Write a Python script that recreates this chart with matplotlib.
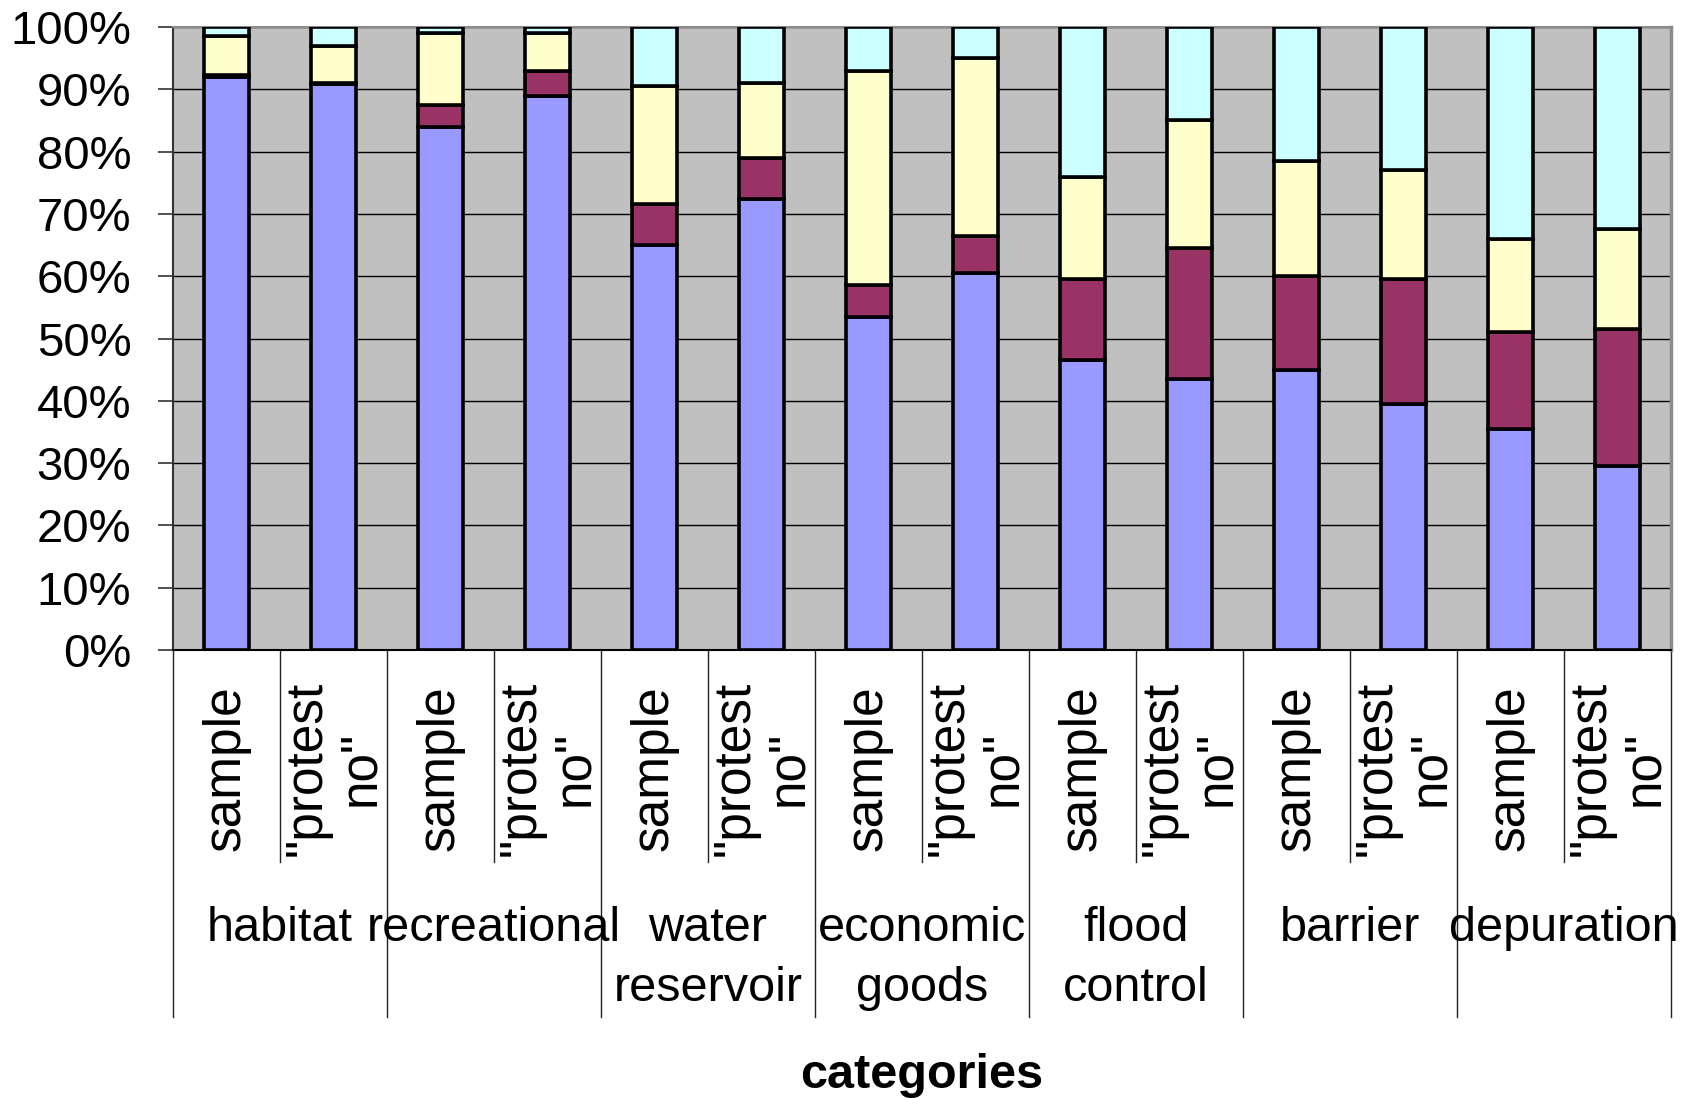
import matplotlib
matplotlib.use("Agg")
import matplotlib.pyplot as plt
import numpy as np

# stacked shares (%) per bar, bottom to top
groups = ["habitat", "recreational", "water\nreservoir", "economic\ngoods",
          "flood\ncontrol", "barrier", "depuration"]
sub_labels = ["sample", "\"protest\nno\""]

blue   = [92.0, 90.8, 84.0, 89.0, 65.0, 72.4, 53.5, 60.5, 46.5, 43.5, 45.0, 39.5, 35.5, 29.5]
maroon = [0.3, 0.2, 3.5, 4.0, 6.6, 6.6, 5.1, 6.0, 13.1, 21.0, 15.0, 20.0, 15.5, 22.0]
yellow = [6.2, 6.0, 11.5, 6.0, 19.0, 12.0, 34.3, 28.5, 16.4, 20.6, 18.5, 17.5, 15.0, 16.0]
cyan   = [1.5, 3.0, 1.0, 1.0, 9.4, 9.0, 7.1, 5.0, 24.0, 14.9, 21.5, 23.0, 34.0, 32.5]

series = [blue, maroon, yellow, cyan]
colors = ["#9999FF", "#993366", "#FFFFCC", "#CCFFFF"]

plt.rcParams["font.family"] = ["Liberation Sans", "DejaVu Sans"]

W, H = 1693, 1098
fig = plt.figure(figsize=(W / 100, H / 100), dpi=100)
left, right, top, bottom = 173, 1671, 27, 650
ax = fig.add_axes([left / W, 1 - bottom / H, (right - left) / W, (bottom - top) / H])
ax.set_facecolor("#C0C0C0")

n = len(blue)
x = np.arange(n)
base = np.zeros(n)
for vals, c in zip(series, colors):
    ax.bar(x, vals, 0.42, bottom=base, color=c, edgecolor="black", linewidth=2.6, zorder=3)
    base += np.array(vals)

ax.set_xlim(-0.5, n - 0.5)
ax.set_ylim(0, 100)
ax.set_yticks(np.arange(0, 101, 10))
ax.set_yticklabels([f"{v}%" for v in range(0, 101, 10)], fontsize=34)
ax.tick_params(axis="y", length=11, width=1.2, pad=19, direction="out", color="#333333")
ax.set_xticks([])
ax.yaxis.grid(True, color="black", linewidth=1.0, zorder=0)
ax.set_axisbelow(True)

ax.spines["top"].set_color("#8C8C8C")
ax.spines["top"].set_linewidth(1.5)
ax.spines["right"].set_color("#8C8C8C")
ax.spines["right"].set_linewidth(2.5)
ax.spines["left"].set_color("#333333")
ax.spines["left"].set_linewidth(1.5)
ax.spines["bottom"].set_color("black")
ax.spines["bottom"].set_linewidth(1.5)

ph = bottom - top
def yfrac(py):
    return -(py - bottom) / ph

tr = ax.get_xaxis_transform()
# group boundaries (long) and sub-category separators (short)
for k in range(len(groups) + 1):
    xb = -0.5 + 2 * k
    ax.plot([xb, xb], [0, yfrac(1017)], transform=tr, color="#222222", lw=1.0, clip_on=False)
for k in range(len(groups)):
    xb = 0.5 + 2 * k
    ax.plot([xb, xb], [0, yfrac(862)], transform=tr, color="#222222", lw=1.0, clip_on=False)

for i in range(n):
    ax.text(x[i], yfrac(768), sub_labels[i % 2], rotation=90, transform=tr,
            ha="center", va="center", multialignment="center", fontsize=37,
            linespacing=1.12)

for g, name in enumerate(groups):
    ax.text(2 * g + 0.5, yfrac(906), name, transform=tr, ha="center", va="top",
            multialignment="center", linespacing=1.42, fontsize=35)

fig.text((left + right) / 2 / W, 1 - 1076 / H, "categories", ha="center", va="center",
         fontweight="bold", fontsize=35)

fig.savefig("out.png", dpi=100)
